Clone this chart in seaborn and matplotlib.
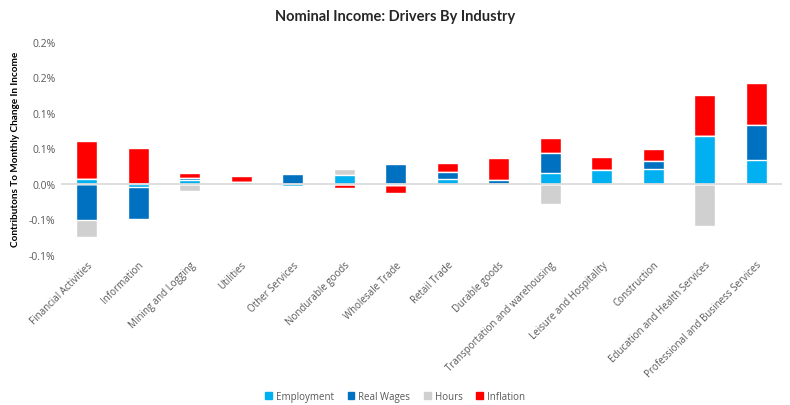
import numpy as np
import pandas as pd
import seaborn as sns
import matplotlib.pyplot as plt
from matplotlib.patches import Patch

##DATA (contribution to monthly change in income, percentage points):
industries = ['Financial Activities', 'Information', 'Mining and Logging', 'Utilities',
              'Other Services', 'Nondurable goods', 'Wholesale Trade', 'Retail Trade',
              'Durable goods', 'Transportation and warehousing', 'Leisure and Hospitality',
              'Construction', 'Education and Health Services', 'Professional and Business Services']
employment = [0.007, -0.0047, 0.0056, 0.003, -0.0025, 0.0126, -0.002, 0.007,
              0.0005, 0.0155, 0.0197, 0.021, 0.0674, 0.0337]
real_wages = [-0.051, -0.044, 0.003, 0.0005, 0.0136, 0.0, 0.028, 0.0094,
              0.0056, 0.0286, 0.0, 0.0112, 0.0, 0.0492]
hours = [-0.023, 0.0, -0.0098, 0.0, 0.0, 0.0084, 0.0, 0.0,
         0.0, -0.0276, 0.0, 0.0, -0.0586, 0.0]
inflation = [0.0534, 0.0506, 0.007, 0.0084, 0.0025, -0.0056, -0.0103, 0.013,
             0.031, 0.0206, 0.0183, 0.0169, 0.0576, 0.059]

series_names = ['Employment', 'Real Wages', 'Hours', 'Inflation']
series_colors = ['#00B0F0', '#0070C0', '#D0D0D0', '#FF0000']
ytick_vals = [-0.10, -0.05, 0.0, 0.05, 0.10, 0.15, 0.20]
ytick_labels = ['-0.1%', '-0.1%', '0.0%', '0.1%', '0.1%', '0.2%', '0.2%']

df = pd.DataFrame({'Industry': industries, 'Employment': employment,
                   'Real Wages': real_wages, 'Hours': hours, 'Inflation': inflation})

#Excel-style stacking: positives and negatives stacked separately
vals = df[series_names].to_numpy()
pos_cum = np.cumsum(np.clip(vals, 0, None), axis=1)
neg_cum = np.cumsum(np.clip(vals, None, 0), axis=1)

sns.set_theme(style='white')
plt.rcParams['font.family'] = ['Open Sans', 'DejaVu Sans']

fig = plt.figure(figsize=(7.9, 4.06), dpi=100)
ax = fig.add_axes([0.0772, 0.3695, 0.9128, 0.5246])

#Draw layers from the outermost down so inner segments sit on top
for k in reversed(range(len(series_names))):
    sns.barplot(x=df['Industry'], y=pos_cum[:, k], color=series_colors[k],
                width=0.41, errorbar=None, saturation=1, ax=ax)
    sns.barplot(x=df['Industry'], y=neg_cum[:, k], color=series_colors[k],
                width=0.41, errorbar=None, saturation=1, ax=ax)

ax.axhline(0, color='#D9D9D9', lw=1.2, zorder=3)
ax.set_ylim(-0.10, 0.20)
ax.set_xlim(-0.5, len(industries) - 0.5)
ax.set_yticks(ytick_vals)
ax.set_yticklabels(ytick_labels, fontsize=7.5, color='#595959')
ax.set_xticks(range(len(industries)))
ax.set_xticklabels(industries, rotation=45, ha='right', rotation_mode='anchor',
                   fontsize=7, color='#595959')
ax.tick_params(axis='both', length=0, pad=4)
ax.tick_params(axis='x', pad=3)
ax.set_xlabel('')
ax.set_ylabel('Contributons To Monthly Change In Income', fontsize=7.2,
              fontweight='bold', family=['Lato', 'DejaVu Sans'], color='black', labelpad=6)
sns.despine(ax=ax, left=True, bottom=True)

fig.suptitle('Nominal Income: Drivers By Industry', fontsize=10.5, fontweight='bold',
             family=['Lato', 'DejaVu Sans'], x=0.5, y=0.975)

handles = [Patch(color=c, label=n) for n, c in zip(series_names, series_colors)]
fig.legend(handles=handles, loc='center', bbox_to_anchor=(0.5, 0.022), ncol=4,
           frameon=False, fontsize=7, handlelength=0.7, handleheight=0.7,
           handletextpad=0.4, columnspacing=1.4, labelcolor='#595959')

fig.savefig('out.png', dpi=100)
plt.close()
